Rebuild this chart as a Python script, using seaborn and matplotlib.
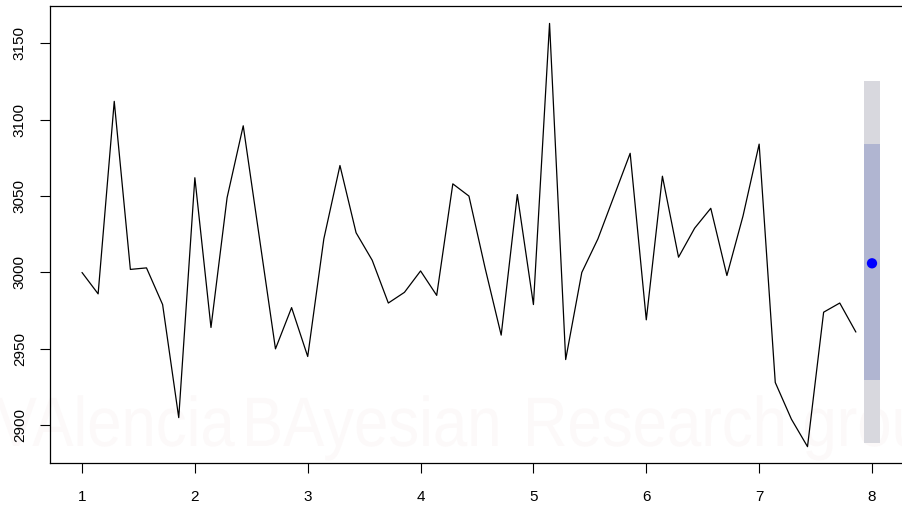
import numpy as np
import pandas as pd
import matplotlib
matplotlib.use("Agg")
import matplotlib.pyplot as plt
import seaborn as sns
from matplotlib.textpath import TextPath
from matplotlib.patches import PathPatch
from matplotlib.transforms import Affine2D
from matplotlib.font_manager import FontProperties

# Daily observations with weekly frequency (7 per unit of time)
values = [3000, 2986, 3112, 3002, 3003, 2979, 2905,
          3062, 2964, 3049, 3096, 3023, 2950, 2977,
          2945, 3022, 3070, 3026, 3008, 2980, 2987,
          3001, 2985, 3058, 3050, 3003, 2959, 3051,
          2979, 3163, 2943, 3000, 3022, 3050, 3078,
          2969, 3063, 3010, 3029, 3042, 2998, 3037,
          3084, 2928, 2904, 2886, 2974, 2980, 2961]
freq = 7
start = 1

# One-step-ahead forecast with 80% and 95% intervals
fc_time = [8]
fc_mean = [3006]
lo80, hi80 = [2929.5], [3084]
lo95, hi95 = [2888.5], [3125]

x_ticks = [1, 2, 3, 4, 5, 6, 7, 8]
y_ticks = [2900, 2950, 3000, 3050, 3100, 3150]

# Background wordmark, word by word
mark_words = ["VAlencia", "BAyesian", "Research", "group"]
mark_x = [-4, 247, 528, 805]

df = pd.DataFrame({"time": start + np.arange(len(values)) / freq,
                   "value": values})

sns.set_style("white")
plt.rcParams["font.family"] = ["Liberation Sans", "DejaVu Sans"]

fig = plt.figure(figsize=(9.02, 5.05), dpi=100)
ax = fig.add_axes([50.4 / 902, 42 / 505, (903.6 - 50.4) / 902, 457 / 505])
ax.set_zorder(2)
ax.patch.set_alpha(0)

# faint, horizontally condensed wordmark behind the plot
fp = FontProperties(family="Liberation Sans")
ref_w = TextPath((0, 0), "Research", size=1, prop=fp).get_extents().width
sx = 255 / ref_w
sy = 70
for word, x0 in zip(mark_words, mark_x):
    tp = TextPath((0, 0), word, size=1, prop=fp)
    ext = tp.get_extents()
    tr = Affine2D().translate(-ext.x0, 0).scale(sx, sy).translate(x0, 505 - 446)
    fig.patches.append(PathPatch(tr.transform_path(tp), facecolor="#FCF9F9",
                                 edgecolor="none", transform=None, zorder=0))

# prediction intervals
bw = 0.075
for t, l95, h95, l80, h80 in zip(fc_time, lo95, hi95, lo80, hi80):
    ax.fill_between([t - bw, t + bw], [l95, l95], [h95, h95],
                    color="#D8D8DE", linewidth=0, zorder=2)
    ax.fill_between([t - bw, t + bw], [l80, l80], [h80, h80],
                    color="#B0B5D1", linewidth=0, zorder=3)

sns.lineplot(data=df, x="time", y="value", color="black", linewidth=0.9,
             ax=ax, zorder=4)
sns.scatterplot(x=fc_time, y=fc_mean, color="#0000FF", s=55,
                edgecolor="none", ax=ax, zorder=5)

ax.set_xlim(0.72, 8.28)
ax.set_ylim(2875.3, 3174.4)
ax.set_xticks(x_ticks)
ax.set_xticklabels([str(v) for v in x_ticks])
ax.set_yticks(y_ticks)
ax.set_yticklabels([str(v) for v in y_ticks], rotation=90, va="center")
ax.set_xlabel("")
ax.set_ylabel("")
ax.tick_params(axis="both", direction="out", length=7.5, width=0.8,
               color="black", labelsize=11, labelcolor="black",
               bottom=True, left=True)
ax.tick_params(axis="x", pad=12)
ax.tick_params(axis="y", pad=9.5)
for s in ax.spines.values():
    s.set_color("black")
    s.set_linewidth(0.9)

fig.savefig("out.png", dpi=100)
